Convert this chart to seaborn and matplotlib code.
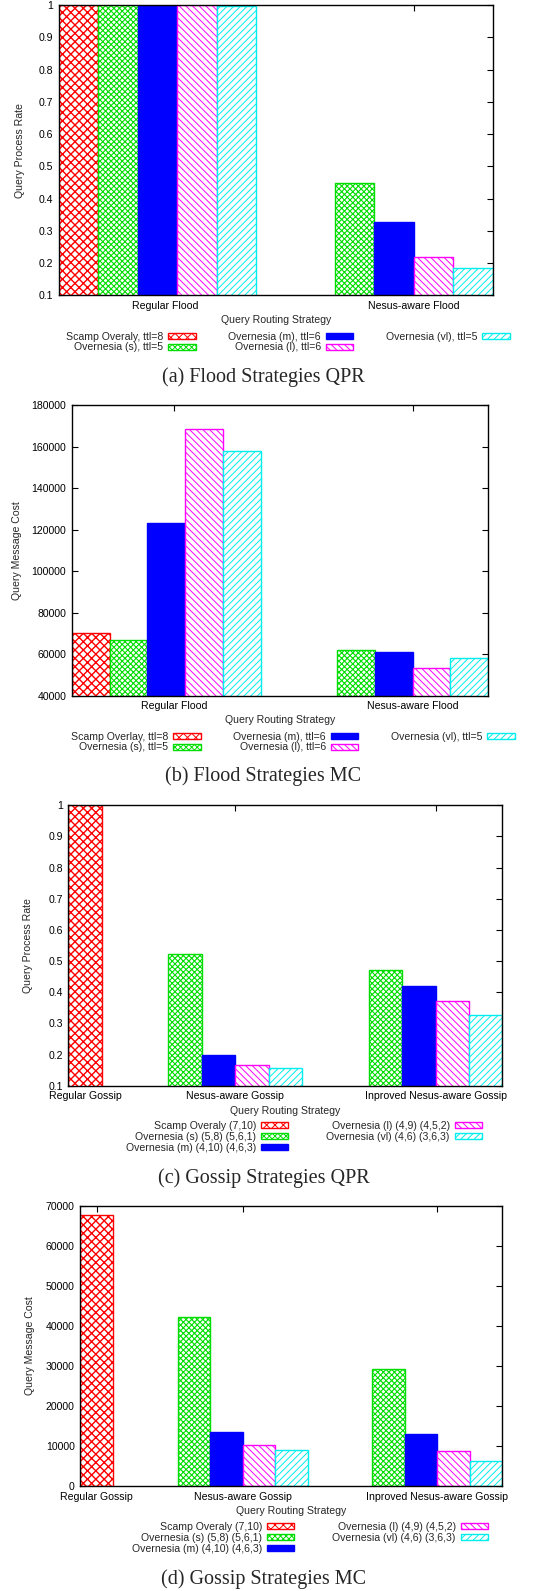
import numpy as np
import pandas as pd
import matplotlib
matplotlib.use("Agg")
import matplotlib.pyplot as plt
import seaborn as sns
from matplotlib import font_manager as fm

nan = np.nan

# ---------------- data ----------------
flood_groups = ["Regular Flood", "Nesus-aware Flood"]
flood_series_qpr = ["Scamp Overaly, ttl=8", "Overnesia (s), ttl=5", "Overnesia (m), ttl=6",
                    "Overnesia (l), ttl=6", "Overnesia (vl), ttl=5"]
flood_series_mc = ["Scamp Overlay, ttl=8", "Overnesia (s), ttl=5", "Overnesia (m), ttl=6",
                   "Overnesia (l), ttl=6", "Overnesia (vl), ttl=5"]

flood_qpr_scamp = [1.0, nan]
flood_qpr_s = [1.0, 0.448]
flood_qpr_m = [1.0, 0.328]
flood_qpr_l = [1.0, 0.219]
flood_qpr_vl = [0.998, 0.185]

flood_mc_scamp = [70200, nan]
flood_mc_s = [67000, 62000]
flood_mc_m = [123300, 61200]
flood_mc_l = [168600, 53300]
flood_mc_vl = [158000, 58300]

gossip_groups = ["Regular Gossip", "Nesus-aware Gossip", "Inproved Nesus-aware Gossip"]
gossip_series = ["Scamp Overaly (7,10)", "Overnesia (s) (5,8) (5,6,1)", "Overnesia (m) (4,10) (4,6,3)",
                 "Overnesia (l) (4,9) (4,5,2)", "Overnesia (vl) (4,6) (3,6,3)"]

gossip_qpr_scamp = [1.0, nan, nan]
gossip_qpr_s = [nan, 0.523, 0.471]
gossip_qpr_m = [nan, 0.198, 0.420]
gossip_qpr_l = [nan, 0.165, 0.373]
gossip_qpr_vl = [nan, 0.158, 0.327]

gossip_mc_scamp = [67800, nan, nan]
gossip_mc_s = [nan, 42200, 29300]
gossip_mc_m = [nan, 13400, 13100]
gossip_mc_l = [nan, 10200, 8800]
gossip_mc_vl = [nan, 9000, 6300]

qpr_ticks = [0.1, 0.2, 0.3, 0.4, 0.5, 0.6, 0.7, 0.8, 0.9, 1.0]
qpr_tick_labels = ["0.1", "0.2", "0.3", "0.4", "0.5", "0.6", "0.7", "0.8", "0.9", "1"]
flood_mc_ticks = [40000, 60000, 80000, 100000, 120000, 140000, 160000, 180000]
gossip_mc_ticks = [0, 10000, 20000, 30000, 40000, 50000, 60000, 70000]

captions = ["(a) Flood Strategies QPR", "(b) Flood Strategies MC",
            "(c) Gossip Strategies QPR", "(d) Gossip Strategies MC"]

# ---------------- style ----------------
sns.set_style("ticks")
names = {f.name for f in fm.fontManager.ttflist}
narrow = "Liberation Sans Narrow" in names
sans = "Liberation Sans Narrow" if narrow else "Liberation Sans"
FS = 8.7 if narrow else 7.6
plt.rcParams["font.family"] = [sans, "DejaVu Sans"]
plt.rcParams["hatch.linewidth"] = 0.7

W, H = 542, 1591
fig = plt.figure(figsize=(W / 100, H / 100), dpi=100)
fig.patch.set_facecolor("white")

styles = [
    dict(face="white", edge="#ff0000", hatch="xxxx", hlw=1.0),
    dict(face="white", edge="#00dd00", hatch="xxxxxx", hlw=0.8),
    dict(face="#0000ff", edge="#0000ff", hatch=None, hlw=0.7),
    dict(face="white", edge="#ff00ff", hatch="\\" * 5, hlw=0.7),
    dict(face="white", edge="#00eeee", hatch="/" * 5, hlw=0.7),
]


def px_axes(l, t, r, b):
    return fig.add_axes([l / W, 1 - b / H, (r - l) / W, (b - t) / H])


def draw(ax, series, values, starts, ticks, tick_labels, yticks, ytick_labels,
         ylim, xlim, ylabel, ylab_x, xlab_y, leg_center, ncols, colspace):
    rows = []
    for si, (name, vals) in enumerate(zip(series, values)):
        for gi, v in enumerate(vals):
            if np.isnan(v):
                continue
            rows.append({"pos": starts[gi] + si, "value": v, "series": name})
    df = pd.DataFrame(rows)
    sns.barplot(data=df, x="pos", y="value", hue="series", hue_order=series,
                native_scale=True, dodge=False, width=1.0, errorbar=None,
                palette=[s["edge"] for s in styles], saturation=1, legend=False, ax=ax)
    for cont, st in zip(ax.containers, styles):
        for p in cont:
            p.set_facecolor(st["face"])
            p.set_edgecolor(st["edge"])
            p.set_linewidth(1.0)
            if st["hatch"]:
                p.set_hatch(st["hatch"])
                try:
                    p.set_hatch_linewidth(st["hlw"])
                except AttributeError:
                    pass
    ax.set_xlim(*xlim)
    ax.set_ylim(*ylim)
    ax.set_xticks(ticks)
    ax.set_xticklabels(tick_labels, fontsize=FS)
    ax.set_yticks(yticks)
    ax.set_yticklabels(ytick_labels, fontsize=FS)
    ax.tick_params(direction="in", length=4, width=0.8, top=True, right=True,
                   pad=4, color="black", labelcolor="black")
    for sp in ax.spines.values():
        sp.set_visible(True)
        sp.set_color("black")
        sp.set_linewidth(1.0)
    ax.set_ylabel(ylabel, fontsize=FS)
    ax.set_xlabel("Query Routing Strategy", fontsize=FS, va="top")
    ax.yaxis.set_label_coords(ylab_x, 0.5)
    ax.xaxis.set_label_coords(0.5, xlab_y)
    handles = [c[0] for c in ax.containers]
    ax.legend(handles, series, ncols=ncols, loc="center",
              bbox_to_anchor=(leg_center[0] / W, 1 - leg_center[1] / H),
              bbox_transform=fig.transFigure, frameon=False, markerfirst=False,
              handlelength=2.6, handleheight=0.5, handletextpad=0.45,
              columnspacing=colspace, labelspacing=0.08, borderpad=0,
              borderaxespad=0, fontsize=FS)


# (a)
ax_a = px_axes(58.7, 5, 492.7, 295.3)
draw(ax_a, flood_series_qpr,
     [flood_qpr_scamp, flood_qpr_s, flood_qpr_m, flood_qpr_l, flood_qpr_vl],
     [0, 6], [2.2, 8.5], flood_groups, qpr_ticks, qpr_tick_labels,
     (0.1, 1.0), (-0.5, 10.5), "Query Process Rate", -0.078, -0.068,
     (288, 342), 3, 3.1)

# (b)
ax_b = px_axes(71.7, 405.3, 488.3, 695.7)
draw(ax_b, flood_series_mc,
     [flood_mc_scamp, flood_mc_s, flood_mc_m, flood_mc_l, flood_mc_vl],
     [0, 6], [2.2, 8.5], flood_groups, flood_mc_ticks, [str(v) for v in flood_mc_ticks],
     (40000, 180000), (-0.5, 10.5), "Query Message Cost", -0.120, -0.065,
     (293, 742), 3, 3.1)

# (c)
ax_c = px_axes(68.3, 805.3, 502.3, 1085.7)
draw(ax_c, gossip_series,
     [gossip_qpr_scamp, gossip_qpr_s, gossip_qpr_m, gossip_qpr_l, gossip_qpr_vl],
     [0, 2, 8], [0, 4.5, 10.5], gossip_groups, qpr_ticks, qpr_tick_labels,
     (0.1, 1.0), (-0.5, 12.5), "Query Process Rate", -0.081, -0.071,
     (304, 1137), 2, 3.6)

# (d)
ax_d = px_axes(80.3, 1206, 502.3, 1486)
draw(ax_d, gossip_series,
     [gossip_mc_scamp, gossip_mc_s, gossip_mc_m, gossip_mc_l, gossip_mc_vl],
     [0, 2, 8], [0, 4.5, 10.5], gossip_groups, gossip_mc_ticks, [str(v) for v in gossip_mc_ticks],
     (0, 70000), (-0.5, 12.5), "Query Message Cost", -0.107, -0.070,
     (310, 1538), 2, 3.6)

cap_y = [377, 776.5, 1178, 1579]
for txt, y in zip(captions, cap_y):
    fig.text(263.5 / W, 1 - y / H, txt, ha="center", va="center",
             fontsize=14.5, family=["Liberation Serif", "DejaVu Serif"])

fig.savefig("out.png", dpi=100, facecolor="white")
